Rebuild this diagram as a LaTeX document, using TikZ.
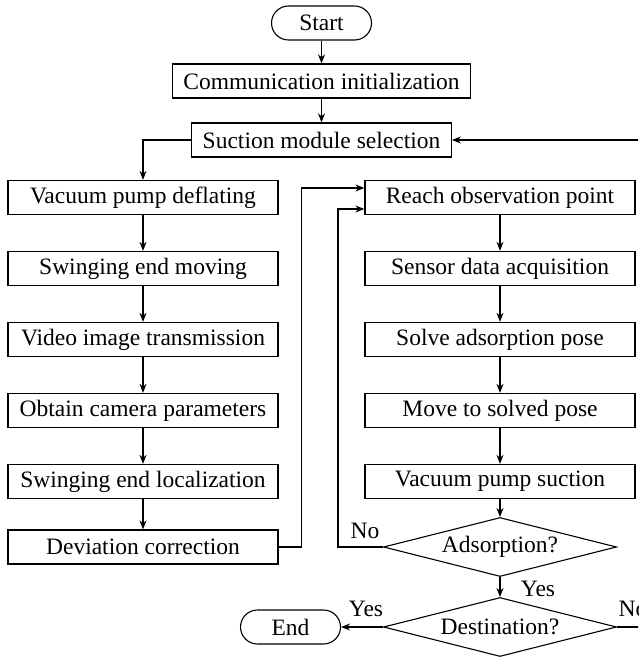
\documentclass[tikz,border=0pt]{standalone}
\usepackage{fontspec}
\setmainfont{Liberation Serif}
\usetikzlibrary{arrows.meta,shapes.geometric}
\tikzset{
box/.style={draw,line width=1.3pt,minimum height=34pt,inner xsep=11pt,inner ysep=0pt},
colbox/.style={box,minimum width=270pt},
term/.style={draw,line width=1.1pt,minimum height=34pt,minimum width=100pt,rounded corners=17pt},
ask/.style={draw,diamond,aspect=3.95,line width=1.1pt,minimum width=233pt,minimum height=59pt,inner sep=0pt},
flow/.style={line width=1.1pt,-{Stealth[length=9pt,width=7pt]}}
}
\begin{document}
\begin{tikzpicture}[x=1pt,y=-1pt,font=\fontsize{23.5}{26}\selectfont]
\useasboundingbox(0,0)rectangle(638,658);
\clip(0,0)rectangle(638,658);
\node[term](start)at(321.5,23){Start};
\node[box](comm)at(321.5,81){Communication initialization};
\node[box](suct)at(321.5,140){Suction module selection};
% left column
\node[colbox](l1)at(143,197.5){Vacuum pump deflating};
\node[colbox](l2)at(143,268.5){Swinging end moving};
\node[colbox](l3)at(143,339.5){Video image transmission};
\node[colbox](l4)at(143,410.5){Obtain camera parameters};
\node[colbox](l5)at(143,481.5){Swinging end localization};
\node[colbox](l6)at(143,547){Deviation correction};
% right column
\node[colbox](r1)at(500,197.5){Reach observation point};
\node[colbox](r2)at(500,268.5){Sensor data acquisition};
\node[colbox](r3)at(500,339.5){Solve adsorption pose};
\node[colbox](r4)at(500,410.5){Move to solved pose};
\node[colbox](r5)at(500,481.5){Vacuum pump suction};
\node[ask](ads)at(500,547){Adsorption?};
\node[ask](dest)at(500,627){Destination?};
\node[term](end)at(290.5,627){End};
\node(no1)at(365,531){No};\node(yes1)at(538,589){Yes};
\node(yes2)at(366,609){Yes};\node(no2)at(633,609){No};
\coordinate(c1)at(301.5,188);\coordinate(c2)at(338,209);\coordinate(c3)at(660,140);
\draw[flow](start)--(comm);
\draw[flow](comm)--(suct);
\draw[flow](suct.west)-|(l1.north);
\foreach \a/\b in {l1/l2,l2/l3,l3/l4,l4/l5,l5/l6,r1/r2,r2/r3,r3/r4,r4/r5,r5/ads,ads/dest}
\draw[flow](\a)--(\b);
\draw[flow](l6.east)-|(c1)--(c1-|r1.west);
\draw[flow](ads.west)-|(c2)--(c2-|r1.west);
\draw[flow](dest.east)-|(c3)--(suct.east);
\draw[flow](dest.west)--(end.east);
\end{tikzpicture}
\end{document}
